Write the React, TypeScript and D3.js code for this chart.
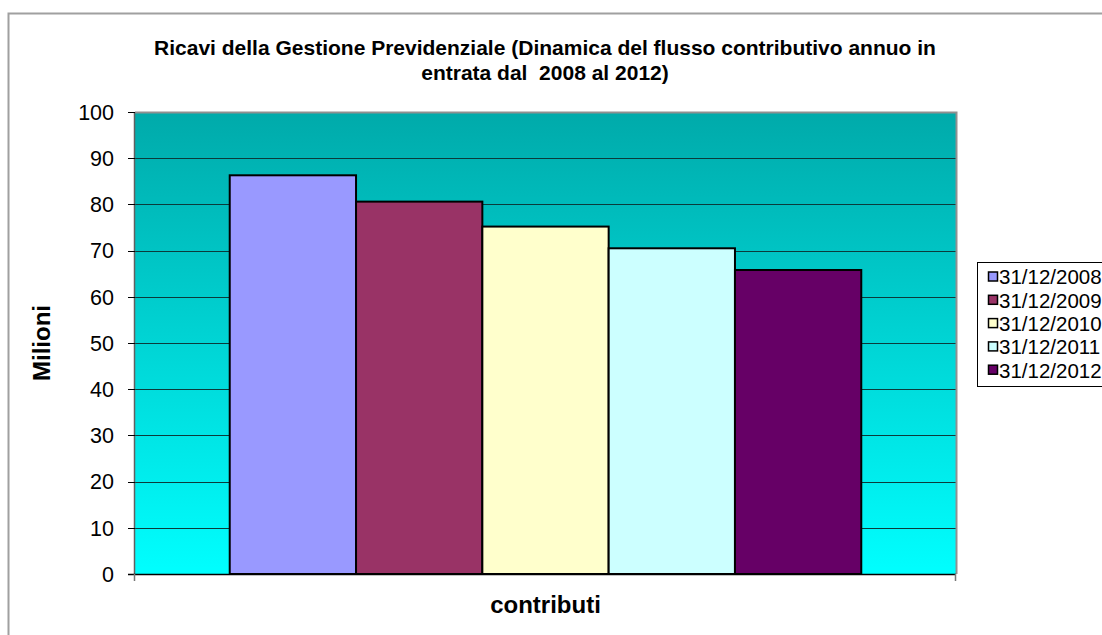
import React from "react";
import * as d3 from "d3";

const title1 = "Ricavi della Gestione Previdenziale (Dinamica del flusso contributivo annuo in";
const title2 = "entrata dal  2008 al 2012)";
const categories = ["contributi"];
const seriesNames = ["31/12/2008", "31/12/2009", "31/12/2010", "31/12/2011", "31/12/2012"];
const seriesValues = [86.3, 80.6, 75.2, 70.5, 65.8];
const seriesColors = ["#9999FF", "#993366", "#FFFFCC", "#CCFFFF", "#660066"];
const yTicks = [0, 10, 20, 30, 40, 50, 60, 70, 80, 90, 100];
const yTitle = "Milioni";

const W = 1102;
const H = 635;
const plot = { left: 135, right: 956, top: 112, bottom: 574 };
const FONT = "'Liberation Sans', Arial, sans-serif";

export default function App() {
  const y = d3.scaleLinear().domain([0, 100]).range([plot.bottom, plot.top]);
  const x0 = d3.scaleBand().domain(categories).range([plot.left, plot.right]).padding(0);
  const groupW = x0.bandwidth() / 1.3;
  const cx = (x0(categories[0]) as number) + x0.bandwidth() / 2;
  const x1 = d3
    .scaleBand()
    .domain(seriesNames)
    .range([cx - groupW / 2, cx + groupW / 2])
    .padding(0);

  const legend = { x: 977, y: 262, w: 140, h: 124 };

  return (
    <svg
      width={W}
      height={H}
      style={{ position: "absolute", left: 0, top: 0, display: "block", background: "#fff" }}
      fontFamily={FONT}
    >
      <defs>
        <linearGradient id="bg" x1="0" y1="0" x2="0" y2="1">
          <stop offset="0" stopColor="#00AAAA" />
          <stop offset="1" stopColor="#00FFFF" />
        </linearGradient>
      </defs>
      <rect x={0} y={0} width={W} height={H} fill="#fff" />
      {/* chart area border */}
      <path d={`M8.5,${H + 2} V13.5 H${W + 2}`} fill="none" stroke="#A0A0A0" strokeWidth={2} />

      {/* title */}
      <text x={545} y={55} textAnchor="middle" fontSize={21} fontWeight="bold" fill="#000" style={{ whiteSpace: "pre" }}>
        {title1}
      </text>
      <text x={545} y={80} textAnchor="middle" fontSize={21} fontWeight="bold" fill="#000" style={{ whiteSpace: "pre" }}>
        {title2}
      </text>

      {/* plot area */}
      <rect
        x={plot.left}
        y={plot.top}
        width={plot.right - plot.left}
        height={plot.bottom - plot.top}
        fill="url(#bg)"
      />
      {yTicks
        .filter((t) => t > 0 && t < 100)
        .map((t) => (
          <line
            key={"g" + t}
            x1={plot.left}
            x2={plot.right}
            y1={Math.round(y(t)) + 0.5}
            y2={Math.round(y(t)) + 0.5}
            stroke="#0b3b3b"
            strokeWidth={1}
          />
        ))}
      <path
        d={`M${plot.left},${plot.top + 0.5} H${plot.right + 0.5} V${plot.bottom}`}
        fill="none"
        stroke="#909090"
        strokeWidth={2}
      />

      {/* bars */}
      {seriesNames.map((s, i) => (
        <rect
          key={s}
          x={x1(s) as number}
          y={y(seriesValues[i])}
          width={x1.bandwidth()}
          height={y(0) - y(seriesValues[i])}
          fill={seriesColors[i]}
          stroke="#000"
          strokeWidth={2}
        />
      ))}

      {/* y axis */}
      <line x1={plot.left - 0.5} x2={plot.left - 0.5} y1={plot.top} y2={plot.bottom} stroke="#606060" strokeWidth={1.5} />
      {yTicks.map((t) => (
        <g key={"t" + t}>
          <line x1={plot.left - 7} x2={plot.left} y1={Math.round(y(t)) + 0.5} y2={Math.round(y(t)) + 0.5} stroke="#000" strokeWidth={1} />
          <text x={114} y={y(t)} dy="0.36em" textAnchor="end" fontSize={21.5} fill="#000">
            {t}
          </text>
        </g>
      ))}
      {/* x axis */}
      <line x1={plot.left - 7} x2={plot.right} y1={plot.bottom + 0.5} y2={plot.bottom + 0.5} stroke="#000" strokeWidth={1.5} />
      {[plot.left, plot.right].map((xx) => (
        <line key={"xt" + xx} x1={xx - 0.5} x2={xx - 0.5} y1={plot.bottom} y2={plot.bottom + 7} stroke="#777" strokeWidth={1.5} />
      ))}
      <text x={cx} y={613} textAnchor="middle" fontSize={24} fontWeight="bold" fill="#000">
        {categories[0]}
      </text>
      <text
        transform={`translate(50, ${(plot.top + plot.bottom) / 2}) rotate(-90)`}
        textAnchor="middle"
        fontSize={24}
        fontWeight="bold"
        fill="#000"
      >
        {yTitle}
      </text>

      {/* legend */}
      <rect x={legend.x + 0.5} y={legend.y + 0.5} width={legend.w} height={legend.h} fill="#fff" stroke="#000" strokeWidth={1} />
      {seriesNames.map((s, i) => {
        const cy = 277 + i * 23.3;
        return (
          <g key={"l" + s}>
            <rect x={988.5} y={cy - 5} width={9} height={9} fill={seriesColors[i]} stroke="#000" strokeWidth={1.5} />
            <text x={999} y={cy} dy="0.36em" fontSize={20.5} fill="#000">
              {s}
            </text>
          </g>
        );
      })}
    </svg>
  );
}
